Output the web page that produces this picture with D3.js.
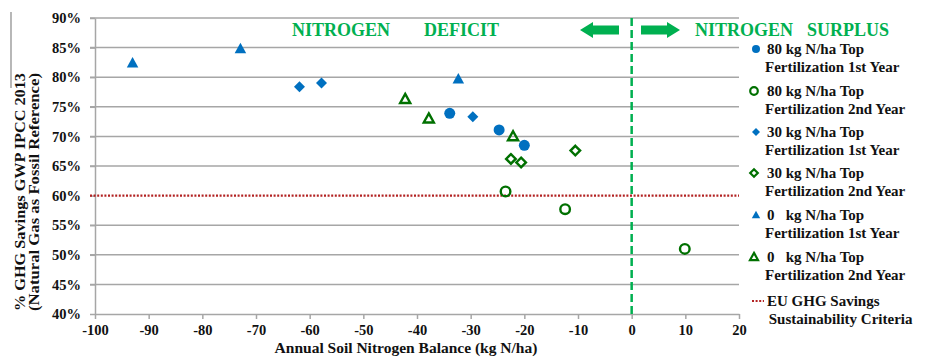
<!DOCTYPE html>
<html>
<head>
<meta charset="utf-8">
<script src="https://cdn.jsdelivr.net/npm/d3@7"></script>
<style>
  body { margin: 0; background: #fff; }
  svg text { font-family: "Liberation Serif", "DejaVu Serif", "Times New Roman", serif; font-weight: bold; }
</style>
</head>
<body>
<svg id="chart" width="930" height="357"></svg>
<script>
// Data
const xTicks = [-100, -90, -80, -70, -60, -50, -40, -30, -20, -10, 0, 10, 20];
const yTicks = [40, 45, 50, 55, 60, 65, 70, 75, 80, 85, 90];
const euLimit = 60;

const s80y1 = [[-33.9, 73.9], [-24.7, 71.1], [-20.0, 68.5]];
const s80y2 = [[-23.5, 60.7], [-12.4, 57.7], [9.9, 51.0]];
const s30y1 = [[-61.9, 78.4], [-57.8, 79.0], [-29.6, 73.3]];
const s30y2 = [[-22.5, 66.2], [-20.6, 65.6], [-10.5, 67.6]];
const s0y1 = [[-93.0, 82.4], [-72.9, 84.8], [-32.3, 79.7]];
const s0y2 = [[-42.2, 76.3], [-37.8, 73.0], [-22.1, 70.0]];

const legendLabels = [
  ["80 kg N/ha Top", "Fertilization 1st Year"],
  ["80 kg N/ha Top", "Fertilization 2nd Year"],
  ["30 kg N/ha Top", "Fertilization 1st Year"],
  ["30 kg N/ha Top", "Fertilization 2nd Year"],
  ["0   kg N/ha Top", "Fertilization 1st Year"],
  ["0   kg N/ha Top", "Fertilization 2nd Year"],
  ["EU GHG Savings", " Sustainability Criteria"]
];

const BLUE = "#0070C0", DKGREEN = "#007000", LTGREEN = "#00B050", RED = "#B22222", GRID = "#A6A6A6";
const FONT = "'Liberation Serif', 'DejaVu Serif', serif";

const series = [
  { data: s80y1, shape: "circle", fill: true, color: BLUE },
  { data: s80y2, shape: "circle", fill: false, color: DKGREEN },
  { data: s30y1, shape: "diamond", fill: true, color: BLUE },
  { data: s30y2, shape: "diamond", fill: false, color: DKGREEN },
  { data: s0y1, shape: "triangle", fill: true, color: BLUE },
  { data: s0y2, shape: "triangle", fill: false, color: DKGREEN }
];

const svg = d3.select("#chart");
const x = d3.scaleLinear().domain([-100, 20]).range([95, 739]);
const y = d3.scaleLinear().domain([40, 90]).range([314, 18]);

// marker shape path
function shapePath(shape, s) {
  if (shape === "circle") return d3.symbol(d3.symbolCircle, s * s * Math.PI)();
  if (shape === "diamond") return `M0,${-s}L${s},0L0,${s}L${-s},0Z`;
  const h = s * 1.8;
  return `M0,${-h * 0.6}L${s * 1.05},${h * 0.45}L${-s * 1.05},${h * 0.45}Z`;
}

// gridlines
svg.append("g")
  .selectAll("line")
  .data(yTicks.filter(d => d !== 40 && d !== euLimit))
  .join("line")
    .attr("x1", 90).attr("x2", 739)
    .attr("y1", d => y(d)).attr("y2", d => y(d))
    .attr("stroke", GRID).attr("stroke-width", 1.5);

// y axis
const yAxis = svg.append("g")
  .attr("transform", "translate(95,0)")
  .call(d3.axisLeft(y).tickValues(yTicks).tickSize(5).tickSizeOuter(0).tickPadding(9).tickFormat(d => d + "%"));
yAxis.attr("font-family", FONT);
yAxis.select(".domain").attr("stroke", GRID).attr("stroke-width", 1.5);
yAxis.selectAll(".tick line").attr("stroke", GRID).attr("stroke-width", 1.5);
yAxis.selectAll("text").attr("font-size", 14.5).attr("fill", "#111");

// x axis
const xAxis = svg.append("g")
  .attr("transform", "translate(0,314)")
  .call(d3.axisBottom(x).tickValues(xTicks).tickSize(5).tickSizeOuter(0).tickPadding(6).tickFormat(d => String(d)));
xAxis.attr("font-family", FONT);
xAxis.select(".domain").attr("stroke", GRID).attr("stroke-width", 1.5);
xAxis.selectAll(".tick line").attr("stroke", GRID).attr("stroke-width", 1.5);
xAxis.selectAll("text").attr("font-size", 14.5).attr("fill", "#111");

// EU limit line
svg.append("line")
  .attr("x1", 90).attr("x2", 739)
  .attr("y1", y(euLimit)).attr("y2", y(euLimit))
  .attr("stroke", RED).attr("stroke-width", 2.2).attr("stroke-dasharray", "2,1.6");

// zero balance line
svg.append("line")
  .attr("x1", x(0)).attr("x2", x(0))
  .attr("y1", y(90)).attr("y2", y(40))
  .attr("stroke", LTGREEN).attr("stroke-width", 2.5).attr("stroke-dasharray", "8,4");

// points
series.forEach(sr => {
  svg.append("g")
    .selectAll("path")
    .data(sr.data)
    .join("path")
      .attr("transform", d => `translate(${x(d[0])},${y(d[1])})`)
      .attr("d", shapePath(sr.shape, sr.fill ? 5.5 : 4.8))
      .attr("fill", sr.fill ? sr.color : "none")
      .attr("stroke", sr.fill ? "none" : sr.color)
      .attr("stroke-width", 2.4);
});

// region labels
svg.append("text").attr("x", 292).attr("y", 36).attr("font-size", 18).attr("fill", LTGREEN).text("NITROGEN");
svg.append("text").attr("x", 424).attr("y", 36).attr("font-size", 18).attr("fill", LTGREEN).text("DEFICIT");
svg.append("text").attr("x", 695).attr("y", 36).attr("font-size", 18).attr("fill", LTGREEN).text("NITROGEN");
svg.append("text").attr("x", 807).attr("y", 36).attr("font-size", 18).attr("fill", LTGREEN).text("SURPLUS");

// arrows
function arrow(x0, x1, cy) {
  const dir = x1 > x0 ? 1 : -1, head = 13 * dir;
  return `M${x0},${cy - 4.5}L${x1 - head},${cy - 4.5}L${x1 - head},${cy - 8}L${x1},${cy}` +
    `L${x1 - head},${cy + 8}L${x1 - head},${cy + 4.5}L${x0},${cy + 4.5}Z`;
}
svg.append("path").attr("d", arrow(619, 580, 30)).attr("fill", LTGREEN);
svg.append("path").attr("d", arrow(641, 680, 30)).attr("fill", LTGREEN);

// y axis title
svg.append("line").attr("x1", 11).attr("x2", 11).attr("y1", 12).attr("y2", 88).attr("stroke", "#888").attr("stroke-width", 1.2);
const yt = svg.append("text")
  .attr("transform", "translate(25,192) rotate(-90)")
  .attr("text-anchor", "middle").attr("font-size", 15).attr("fill", "#111");
yt.append("tspan").attr("x", 0).attr("y", 0)
  .attr("textLength", 238).attr("lengthAdjust", "spacingAndGlyphs").text("% GHG Savings GWP IPCC 2013");
yt.append("tspan").attr("x", 0).attr("y", 14)
  .attr("textLength", 238).attr("lengthAdjust", "spacingAndGlyphs").text("(Natural Gas as Fossil Reference)");

// x axis title
svg.append("text").attr("x", 406).attr("y", 353).attr("text-anchor", "middle")
  .attr("font-size", 15.5).attr("fill", "#111").text("Annual Soil Nitrogen Balance (kg N/ha)");

// legend
const legendY = [49, 91, 132, 173, 215, 257, 301];
const leg = svg.append("g");
legendLabels.forEach((lab, i) => {
  const cy = legendY[i];
  if (i < series.length) {
    const sr = series[i];
    leg.append("path")
      .attr("transform", `translate(${sr.fill ? 756 : 754},${cy})`)
      .attr("d", shapePath(sr.shape, sr.fill ? 4 : 3.8))
      .attr("fill", sr.fill ? sr.color : "none")
      .attr("stroke", sr.fill ? "none" : sr.color)
      .attr("stroke-width", 2.2);
  } else {
    leg.append("line").attr("x1", 752).attr("x2", 764).attr("y1", cy).attr("y2", cy)
      .attr("stroke", RED).attr("stroke-width", 2.2).attr("stroke-dasharray", "2,1.6");
  }
  const t = leg.append("text").attr("font-size", 15).attr("fill", "#111").attr("xml:space", "preserve");
  t.append("tspan").attr("x", 767).attr("y", cy + 5).text(lab[0]);
  t.append("tspan").attr("x", 765).attr("y", cy + 23).text(lab[1]);
});
</script>
</body>
</html>
